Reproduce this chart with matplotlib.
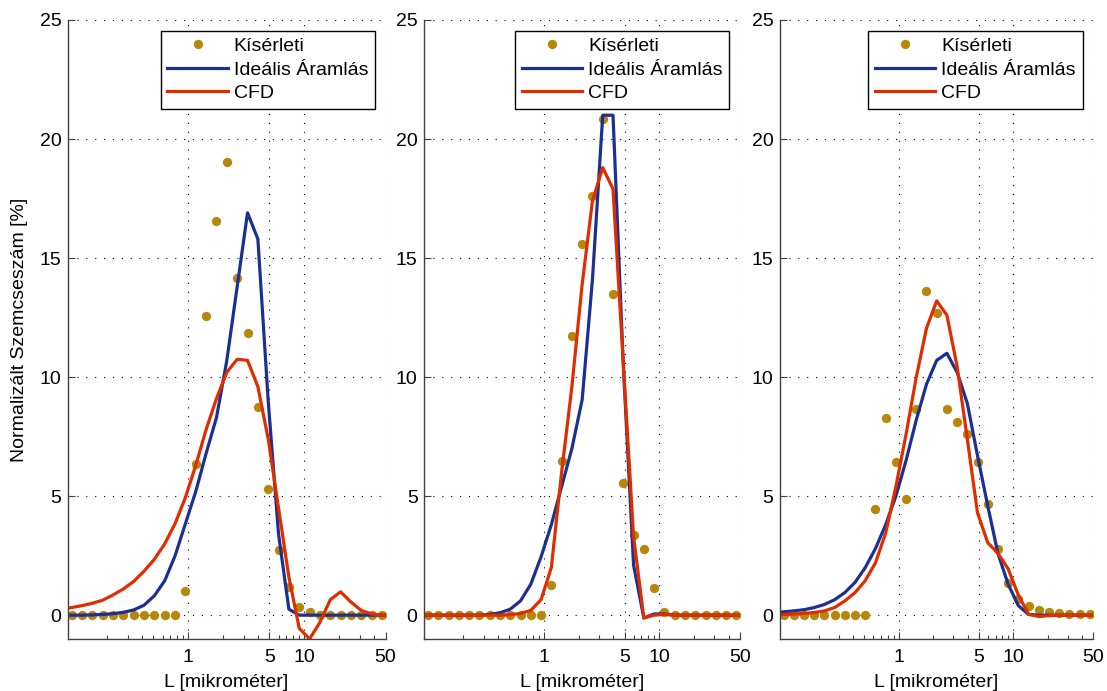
import matplotlib
matplotlib.use("Agg")
import matplotlib.pyplot as plt
from matplotlib.ticker import FixedLocator, FixedFormatter, LogLocator, NullFormatter

plt.rcParams["font.family"] = ["Liberation Sans", "DejaVu Sans"]
plt.rcParams["font.size"] = 14

# particle size (mikrometer) for measured points and for simulated curves
x_exp = [0.0989, 0.1214, 0.149, 0.183, 0.2246, 0.2757, 0.3386, 0.4156, 0.5103, 0.6264,
         0.7691, 0.9443, 1.159, 1.423, 1.747, 2.145, 2.634, 3.234, 3.970, 4.874,
         5.984, 7.347, 9.020, 11.07, 13.60, 16.69, 20.49, 25.16, 30.89, 37.93, 46.56]
x_sim = [0.0806] + x_exp + [57.17]

# panel 1
exp_1 = [0] * 11 + [1.0, 6.35, 12.55, 16.55, 19.05, 14.15, 11.85, 8.75, 5.3, 2.75,
                    1.2, 0.35, 0.12] + [0] * 7
ideal_1 = [0, 0, 0, 0.01, 0.03, 0.06, 0.12, 0.22, 0.42, 0.82, 1.45, 2.5, 3.85, 5.2,
           6.8, 8.3, 10.7, 13.8, 16.9, 15.8, 9.0, 3.4, 0.25] + [0] * 10
cfd_1 = [0.24, 0.32, 0.4, 0.5, 0.63, 0.85, 1.1, 1.42, 1.85, 2.35, 3.0, 3.85, 4.95, 6.3,
         7.8, 9.1, 10.2, 10.75, 10.7, 9.6, 7.4, 4.5, 1.6, -0.55, -1.0, -0.3, 0.65, 0.98,
         0.55, 0.2, 0.05, 0.0, 0.0]

# panel 2
exp_2 = [0] * 12 + [1.27, 6.47, 11.74, 15.58, 17.6, 20.85, 13.48, 5.56, 3.37, 2.79,
                    1.16, 0.13] + [0] * 7
ideal_2 = [0] * 7 + [0.03, 0.1, 0.25, 0.6, 1.3, 2.45, 3.8, 5.4, 7.0, 9.05, 14.1, 21.0,
                     21.0, 10.5, 2.1, -0.12, 0.05, 0.05] + [0] * 8
cfd_2 = [0] * 9 + [0.02, 0.07, 0.2, 0.65, 2.0, 6.0, 9.6, 13.9, 17.4, 18.8, 17.9, 10.6,
                   3.3, -0.12, 0.0, 0.03] + [0] * 8

# panel 3
exp_3 = [0] * 9 + [4.47, 8.3, 6.42, 4.86, 8.66, 13.6, 12.7, 8.64, 8.1, 7.61, 6.44, 4.68,
                   2.79, 1.37, 0.67, 0.39, 0.21, 0.14, 0.08, 0.05, 0.04, 0.04]
ideal_3 = [0.1, 0.14, 0.18, 0.23, 0.32, 0.45, 0.65, 0.95, 1.38, 2.0, 2.8, 3.8, 5.0, 6.5,
           8.2, 9.7, 10.7, 11.0, 10.2, 8.9, 6.7, 4.6, 2.6, 1.3, 0.4, 0.03] + [0] * 7
cfd_3 = [0.02, 0.03, 0.05, 0.07, 0.11, 0.18, 0.32, 0.6, 0.95, 1.45, 2.2, 3.45, 5.4, 7.6,
         10.0, 12.05, 13.2, 12.6, 10.45, 7.4, 4.3, 3.05, 2.6, 1.95, 0.85, 0.04, -0.06,
         -0.02] + [0] * 5

xticks = [1, 5, 10, 50]
xtick_labels = ["1", "5", "10", "50"]
yticks = [0, 5, 10, 15, 20, 25]

c_exp = "#b8860b"
c_ideal = "#1c2f92"
c_cfd = "#e02d00"

fig = plt.figure(figsize=(11.07, 6.91), dpi=100)
rects = [[0.0610, 0.0753, 0.2873, 0.8958],
         [0.3829, 0.0753, 0.2855, 0.8958],
         [0.7042, 0.0753, 0.2834, 0.8958]]
panels = [(exp_1, ideal_1, cfd_1), (exp_2, ideal_2, cfd_2), (exp_3, ideal_3, cfd_3)]

for k, (rect, (e, ideal, cfd)) in enumerate(zip(rects, panels)):
    ax = fig.add_axes(rect)
    ax.plot(x_exp, e, "o", color=c_exp, markersize=6.7, markeredgewidth=0, label="Kísérleti")
    ax.plot(x_sim, ideal, "-", color=c_ideal, lw=2.3, label="Ideális Áramlás")
    ax.plot(x_sim, cfd, "-", color=c_cfd, lw=2.3, label="CFD")
    ax.set_xscale("log")
    ax.set_xlim(0.091, 50)
    ax.set_ylim(-1, 25)
    ax.xaxis.set_major_locator(FixedLocator(xticks))
    ax.xaxis.set_major_formatter(FixedFormatter(xtick_labels))
    ax.xaxis.set_minor_locator(LogLocator(base=10, subs=range(2, 10), numticks=20))
    ax.xaxis.set_minor_formatter(NullFormatter())
    ax.set_yticks(yticks)
    ax.tick_params(which="major", direction="in", length=5, width=0.8, color="#404040")
    ax.tick_params(which="minor", direction="in", length=3, width=0.8, color="#404040")
    ax.tick_params(axis="y", which="both", left=True, right=False, pad=4.5)
    ax.tick_params(axis="x", which="both", bottom=True, top=False, pad=7)
    for s in ["top", "right"]:
        ax.spines[s].set_visible(False)
    for s in ["left", "bottom"]:
        ax.spines[s].set_color("#404040")
        ax.spines[s].set_linewidth(1.0)
    ax.grid(True, which="major", color="black", linestyle=(0, (1, 7)), linewidth=0.8)
    ax.set_axisbelow(True)
    ax.set_xlabel("L [mikrométer]", labelpad=6)
    if k == 0:
        ax.set_ylabel("Normalizált Szemcseszám [%]", labelpad=8)
    leg = ax.legend(loc="upper right", numpoints=1, handlelength=3.1, handletextpad=0.3,
                    labelspacing=0.3, borderpad=0.35, borderaxespad=0.55, fancybox=False,
                    framealpha=1, edgecolor="black", fontsize=14)
    leg.get_frame().set_linewidth(1.0)

fig.savefig("out.png", dpi=100)
